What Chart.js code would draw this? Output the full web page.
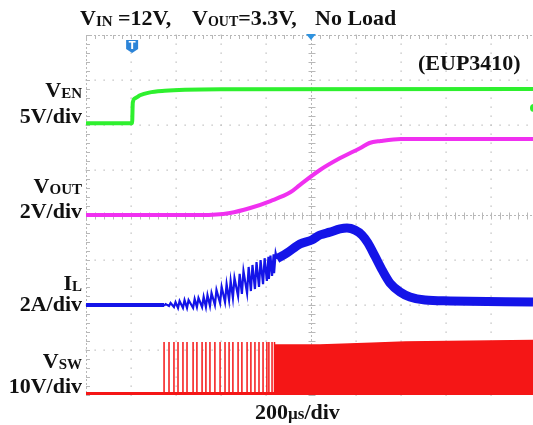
<!DOCTYPE html>
<html>
<head>
<meta charset="utf-8">
<script src="https://cdn.jsdelivr.net/npm/chart.js@4.4.0/dist/chart.umd.min.js"></script>
<style>
  body { margin: 0; background: #fff; }
  canvas { display: block; }
</style>
</head>
<body>
<canvas id="scope" width="533" height="425"></canvas>
<script>
// time in µs, 0 = centre of screen, 200 µs/div (right edge of screen is cut off)
const tStart = -1000;
const tEnd = 987;

// V_EN (V)
const enTime = [-1000, -795, -792, -780, -760, -720, -650, -560, -400, 987];
const enVolt = [0, 0, 2.3, 2.8, 3.1, 3.4, 3.6, 3.72, 3.78, 3.8];
const enTrigLevel = 1.7;

// V_OUT (V)
const outTime = [-1000, -490, -360, -270, -180, -90, -50, 40, 130, 220, 260, 310, 400, 987];
const outVolt = [0, 0, 0.09, 0.31, 0.62, 1.02, 1.33, 2.0, 2.53, 2.98, 3.2, 3.29, 3.38, 3.38];

// switching pulses during soft start (µs)
const spikeTime = [-653, -631, -609, -591, -569, -551, -524, -507, -484, -467, -449, -427, -404,
  -382, -364, -347, -324, -307, -284, -267, -249, -231, -213, -196, -187, -173, -164];

// I_L ripple at each pulse (A)
const ilPeak = [0.04, 0.09, 0.13, 0.18, 0.22, 0.22, 0.27, 0.31, 0.36, 0.44, 0.53, 0.67, 0.8,
  0.93, 1.07, 1.2, 1.38, 1.51, 1.69, 1.78, 1.91, 2.0, 2.08, 2.14, 2.2, 2.25, 2.3];
const ilValley = [-0.04, -0.04, -0.09, -0.13, -0.13, -0.13, -0.13, -0.09, -0.09, -0.09, -0.04, 0, 0.09,
  0.13, 0.22, 0.31, 0.4, 0.49, 0.53, 0.62, 0.71, 0.8, 0.93, 1.07, 1.16, 1.29, 1.42];

// I_L after continuous switching starts (A)
const ilTime = [-151, -107, -49, 4, 40, 84, 129, 160, 196, 227, 253, 284, 316, 351, 396, 440, 507, 618, 987];
const ilAmp = [2.05, 2.31, 2.71, 2.89, 3.11, 3.24, 3.38, 3.42, 3.33, 3.11, 2.76, 2.18, 1.56, 0.98, 0.58, 0.36, 0.22, 0.18, 0.13];

// V_SW (V)
const swSpikeVolt = 11.3;
const swBlockTime = [-160, 40, 270, 420, 987];
const swBlockVolt = [10.6, 10.6, 11.0, 11.3, 11.6];

const channels = {
  en: { ground: 6.04, perDiv: 5, color: "#2ef02e" },
  out: { ground: 4.0, perDiv: 2, color: "#f030f0" },
  il: { ground: 2.0, perDiv: 2, color: "#1414e8" },
  sw: { ground: 0.05, perDiv: 10, color: "#f51616" },
};

function toDiv(ch, v) {
  return channels[ch].ground + v / channels[ch].perDiv;
}

function points(ch, times, values) {
  return times.map((t, i) => ({ x: t, y: toDiv(ch, values[i]) }));
}

let ilBase = [{ x: tStart, y: toDiv("il", 0) }, { x: spikeTime[0], y: toDiv("il", 0) }];

let ilRipple = [];
spikeTime.forEach((t, i) => {
  ilRipple.push({ x: t, y: toDiv("il", ilValley[i]) });
  ilRipple.push({ x: t + 7, y: toDiv("il", ilPeak[i]) });
});
ilRipple.push({ x: ilTime[0], y: toDiv("il", ilAmp[0]) });

let swPoints = [{ x: tStart, y: toDiv("sw", 0) }];
spikeTime.forEach((t) => {
  swPoints.push({ x: t, y: toDiv("sw", 0) });
  swPoints.push({ x: t, y: toDiv("sw", swSpikeVolt) });
  swPoints.push({ x: t, y: toDiv("sw", 0) });
});
swPoints.push({ x: swBlockTime[0], y: toDiv("sw", 0) });
swBlockTime.forEach((t, i) => swPoints.push({ x: t, y: toDiv("sw", swBlockVolt[i]) }));
swPoints.push({ x: tEnd, y: toDiv("sw", 0) });

function font(size) {
  return "bold " + size + 'px "Liberation Serif", "DejaVu Serif", serif';
}

function drawParts(ctx, parts, x, y, align) {
  let total = 0;
  parts.forEach((p) => {
    ctx.font = font(p[1]);
    total += ctx.measureText(p[0]).width;
  });
  let cx = align === "right" ? x - total : x;
  parts.forEach((p) => {
    ctx.font = font(p[1]);
    ctx.fillText(p[0], cx, y + (p[2] || 0));
    cx += ctx.measureText(p[0]).width;
  });
}

const graticule = {
  id: "graticule",
  beforeDatasetsDraw(chart) {
    const { ctx, chartArea: a, scales: { x, y } } = chart;
    ctx.save();
    ctx.fillStyle = "#bdbdbd";
    for (let t = -800; t <= 800; t += 200) {
      if (t === 0) continue;
      let px = x.getPixelForValue(t);
      for (let k = 0; k <= 40; k++) ctx.fillRect(px - 0.5, y.getPixelForValue(k / 5) - 0.5, 1.3, 1.3);
    }
    for (let d = 1; d <= 7; d++) {
      if (d === 4) continue;
      let py = y.getPixelForValue(d);
      for (let k = 0; k <= 50; k++) ctx.fillRect(x.getPixelForValue(tStart + k * 40) - 0.5, py - 0.5, 1.3, 1.3);
    }

    ctx.strokeStyle = "#b8b8b8";
    ctx.lineWidth = 1;
    let cx = Math.round(x.getPixelForValue(0)) + 0.5;
    let cy = Math.round(y.getPixelForValue(4)) + 0.5;
    ctx.setLineDash([2, 2]);
    ctx.beginPath();
    ctx.moveTo(cx, a.top);
    ctx.lineTo(cx, a.bottom);
    ctx.moveTo(a.left, cy);
    ctx.lineTo(a.right, cy);
    ctx.moveTo(a.left, a.top + 0.5);
    ctx.lineTo(a.right, a.top + 0.5);
    ctx.moveTo(a.left + 0.5, a.top);
    ctx.lineTo(a.left + 0.5, a.bottom);
    ctx.stroke();
    ctx.setLineDash([]);
    ctx.beginPath();
    for (let k = 0; k <= 40; k++) {
      let py = Math.round(y.getPixelForValue(k / 5)) + 0.5;
      ctx.moveTo(cx - 3, py);
      ctx.lineTo(cx + 4, py);
      ctx.moveTo(a.left, py);
      ctx.lineTo(a.left + 4, py);
    }
    for (let k = 0; k <= 50; k++) {
      let px = Math.round(x.getPixelForValue(tStart + k * 40)) + 0.5;
      ctx.moveTo(px, cy - 3);
      ctx.lineTo(px, cy + 4);
      ctx.moveTo(px, a.top);
      ctx.lineTo(px, a.top + 4);
    }
    ctx.stroke();
    ctx.restore();
  },
  afterDraw(chart) {
    const { ctx, chartArea: a, scales: { x, y } } = chart;
    ctx.save();

    // horizontal position marker
    let cx = x.getPixelForValue(0);
    ctx.fillStyle = "#2f93e0";
    ctx.beginPath();
    ctx.moveTo(cx - 5, a.top - 1);
    ctx.lineTo(cx + 5, a.top - 1);
    ctx.lineTo(cx, a.top + 5);
    ctx.closePath();
    ctx.fill();

    // trigger point marker
    let tx = x.getPixelForValue(enTime[1]);
    ctx.fillStyle = "#2c84d8";
    ctx.beginPath();
    ctx.moveTo(tx - 6, a.top + 5);
    ctx.lineTo(tx + 6, a.top + 5);
    ctx.lineTo(tx + 6, a.top + 14);
    ctx.lineTo(tx, a.top + 18);
    ctx.lineTo(tx - 6, a.top + 14);
    ctx.closePath();
    ctx.fill();
    ctx.fillStyle = "#fff";
    ctx.font = 'bold 10px "DejaVu Sans", sans-serif';
    ctx.textAlign = "center";
    ctx.fillText("T", tx, a.top + 14);
    ctx.textAlign = "left";

    // trigger level marker
    ctx.fillStyle = channels.en.color;
    ctx.beginPath();
    ctx.arc(a.right + 1, y.getPixelForValue(toDiv("en", enTrigLevel)), 4, 0, Math.PI * 2);
    ctx.fill();

    ctx.fillStyle = "#111";
    drawParts(ctx, [["V", 22], ["IN", 15, 1], [" =12V,", 22]], 80, 25);
    drawParts(ctx, [["V", 22], ["OUT", 14, 1], ["=3.3V,", 22]], 192, 25);
    drawParts(ctx, [["No Load", 22]], 315, 25);
    drawParts(ctx, [["(EUP3410)", 22]], 418, 70);

    drawParts(ctx, [["V", 22], ["EN", 15, 1]], 82, 97, "right");
    drawParts(ctx, [["5V/div", 22]], 82, 123, "right");
    drawParts(ctx, [["V", 22], ["OUT", 15, 1]], 82, 193, "right");
    drawParts(ctx, [["2V/div", 22]], 82, 218, "right");
    drawParts(ctx, [["I", 22], ["L", 15, 1]], 82, 290, "right");
    drawParts(ctx, [["2A/div", 22]], 82, 311, "right");
    drawParts(ctx, [["V", 22], ["SW", 15, 1]], 82, 368, "right");
    drawParts(ctx, [["10V/div", 22]], 82, 393, "right");
    drawParts(ctx, [["200", 22], ["µs", 17], ["/div", 22]], 255, 419);
    ctx.restore();
  },
};

const smooth = { tension: 0.4, cubicInterpolationMode: "monotone" };

new Chart(document.getElementById("scope"), {
  type: "line",
  data: {
    datasets: [
      { data: points("en", enTime, enVolt), borderColor: channels.en.color, borderWidth: 4, ...smooth },
      { data: points("out", outTime, outVolt), borderColor: channels.out.color, borderWidth: 4, ...smooth },
      { data: ilBase, borderColor: channels.il.color, borderWidth: 4 },
      { data: ilRipple, borderColor: channels.il.color, borderWidth: 2.2 },
      { data: points("il", ilTime, ilAmp), borderColor: channels.il.color, borderWidth: 9, borderJoinStyle: "round", ...smooth },
      {
        data: swPoints,
        borderColor: channels.sw.color,
        borderWidth: 1.5,
        backgroundColor: channels.sw.color,
        fill: "start",
      },
    ],
  },
  options: {
    responsive: false,
    animation: false,
    events: [],
    layout: { padding: { left: 86, top: 35, right: 0, bottom: 30 } },
    elements: { point: { radius: 0 }, line: { tension: 0 } },
    plugins: { legend: { display: false }, tooltip: { enabled: false } },
    scales: {
      x: { type: "linear", min: tStart, max: tEnd, display: false },
      y: { min: 0, max: 8, display: false },
    },
  },
  plugins: [graticule],
});
</script>
</body>
</html>
